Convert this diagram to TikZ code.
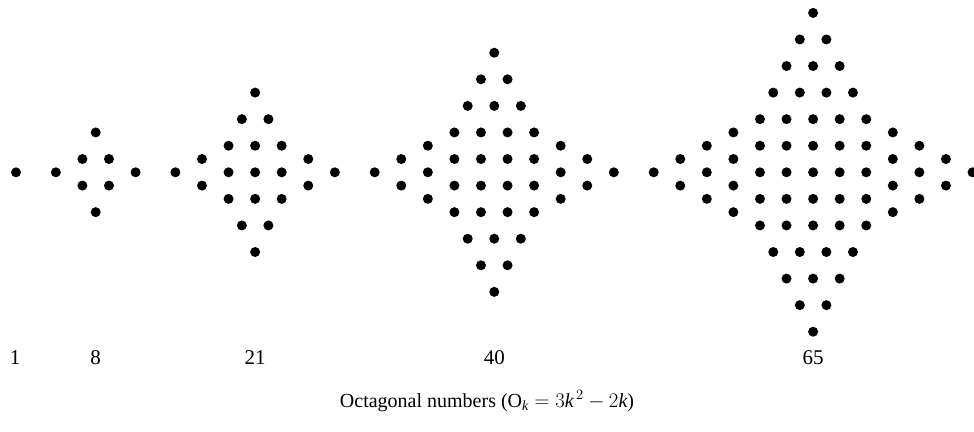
\documentclass[tikz,border=0pt]{standalone}
\usepackage{fontspec}
\setmainfont{Liberation Serif}
\tikzset{
  dotmark/.style={fill=black},
  numlabel/.style={anchor=base, inner sep=0pt, font=\fontsize{21}{25}\selectfont},
  caption/.style={anchor=base, inner sep=0pt, font=\fontsize{20}{24}\selectfont}
}
\begin{document}
\begin{tikzpicture}[x=1pt,y=-1pt]
\useasboundingbox (0,0) rectangle (974,431);
\def\s{26.57}
\def\cy{172.3}
\foreach \k/\c in {1/0,2/3,3/9,4/18,5/30}{
  \pgfmathsetmacro\cx{16+\c*\s}
  \pgfmathsetmacro\h{(\k-1)/2}
  \foreach \i in {1,...,\k}{
    \foreach \j in {1,...,\k}{
      \fill[dotmark] ({\cx+(\i-1-\h)*\s},{\cy+(\j-1-\h)*\s}) circle[radius=5];
    }
  }
  \ifnum\k>1
    \pgfmathtruncatemacro\km{\k-1}
    \foreach \r in {1,...,\km}{
      \pgfmathtruncatemacro\n{\k-\r}
      \foreach \m in {1,...,\n}{
        \pgfmathsetmacro\o{(\m-1)-(\n-1)/2}
        \fill[dotmark] ({\cx+\o*\s},{\cy-(\h+\r)*\s}) circle[radius=5];
        \fill[dotmark] ({\cx+\o*\s},{\cy+(\h+\r)*\s}) circle[radius=5];
        \fill[dotmark] ({\cx-(\h+\r)*\s},{\cy+\o*\s}) circle[radius=5];
        \fill[dotmark] ({\cx+(\h+\r)*\s},{\cy+\o*\s}) circle[radius=5];
      }
    }
  \fi
}
\node[numlabel] (l1) at (15,364) {1};
\node[numlabel] (l2) at (95.7,364) {8};
\node[numlabel] (l3) at (255.1,364) {21};
\node[numlabel] (l4) at (494.3,364) {40};
\node[numlabel] (l5) at (813.1,364) {65};
\node[caption] (cap) at (487,407) {Octagonal numbers ($\mathrm{O}_{\mathit{k}} = 3\mathit{k}^{\,2} - 2\mathit{k}$)};
\end{tikzpicture}
\end{document}
